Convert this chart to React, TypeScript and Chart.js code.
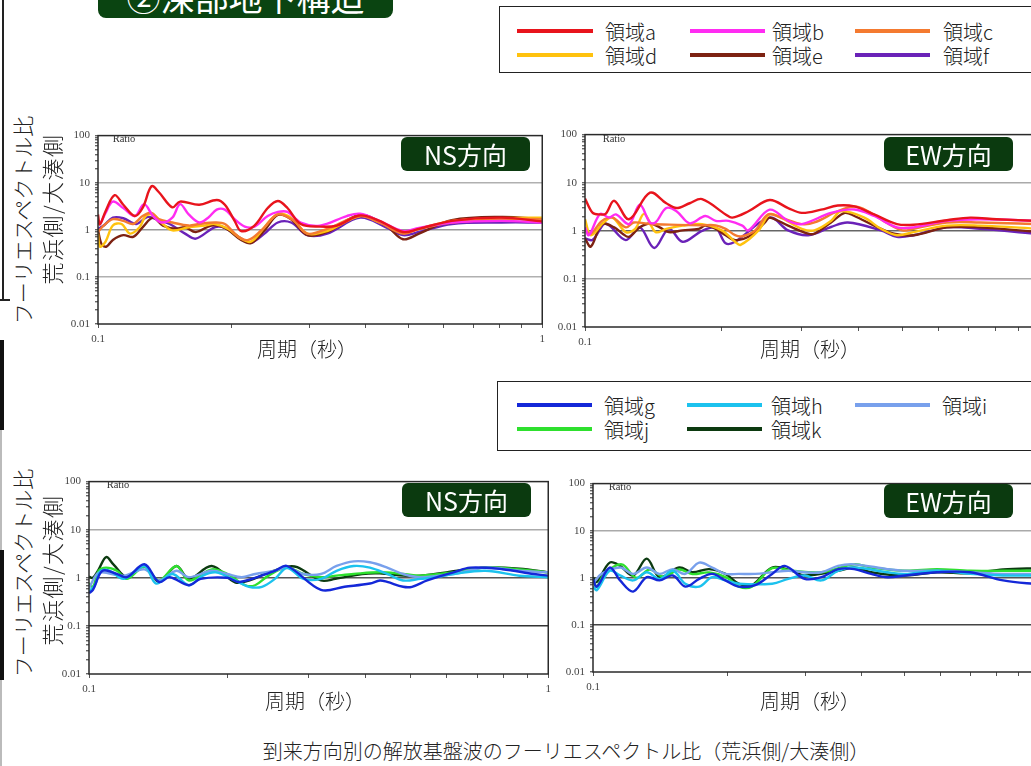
import React, { useEffect, useRef } from "react";
import { Chart, registerables } from "chart.js";
Chart.register(...registerables);

type Pt = [number, number];

// ---- tick values ----
const X_TICKS = [0.1, 0.2, 0.3, 0.4, 0.5, 0.6, 0.7, 0.8, 0.9, 1];
const X_LABELED = [0.1, 1];
const Y_DECADES = [0.01, 0.1, 1, 10, 100];
const Y_MANTISSAS = [1, 2, 3, 4, 5, 6, 7, 8, 9];

// ---- labels ----
const LABELS_TOP = ["領域a", "領域b", "領域c", "領域d", "領域e", "領域f"];
const LABELS_BOTTOM = ["領域g", "領域h", "領域i", "領域j", "領域k"];

// ---- NS (top, regions a-f): [period(s), ratio] ----
const NS_A: Pt[] = [[0.1,2.12],[0.101,1.3],[0.104,2.48],[0.109,5.43],[0.114,3.4],[0.121,1.96],[0.126,2.9],[0.132,8.42],[0.137,6.35],[0.147,3.0],[0.153,3.97],[0.169,3.4],[0.185,4.29],[0.193,3.4],[0.203,1.55],[0.21,0.94],[0.225,1.23],[0.241,2.9],[0.254,4.09],[0.267,2.9],[0.286,1.33],[0.316,1.17],[0.345,1.23],[0.389,2.02],[0.43,1.55],[0.486,0.9],[0.528,1.05],[0.626,1.55],[0.809,1.81],[1.0,1.5]];
const NS_B: Pt[] = [[0.1,1.55],[0.101,1.33],[0.104,2.29],[0.108,3.97],[0.114,2.9],[0.121,1.96],[0.127,3.5],[0.133,1.96],[0.139,1.43],[0.147,1.81],[0.153,3.5],[0.16,2.12],[0.169,1.43],[0.177,1.81],[0.185,2.68],[0.193,2.68],[0.203,1.68],[0.214,1.17],[0.225,1.17],[0.241,1.96],[0.254,2.4],[0.267,2.4],[0.286,1.43],[0.316,1.23],[0.363,1.96],[0.389,2.19],[0.43,1.55],[0.486,0.94],[0.528,1.1],[0.626,1.43],[0.809,1.55],[1.0,1.43]];
const NS_C: Pt[] = [[0.1,0.9],[0.103,1.23],[0.108,1.68],[0.114,1.55],[0.12,1.33],[0.126,1.96],[0.132,2.29],[0.137,1.68],[0.147,1.43],[0.16,1.23],[0.169,1.33],[0.183,1.43],[0.193,1.33],[0.207,0.71],[0.218,0.61],[0.233,0.97],[0.254,2.12],[0.276,1.55],[0.296,0.83],[0.328,1.05],[0.389,1.96],[0.43,1.43],[0.486,0.83],[0.528,1.05],[0.626,1.43],[0.809,1.68],[1.0,1.68]];
const NS_D: Pt[] = [[0.1,0.83],[0.101,0.44],[0.104,0.56],[0.108,1.23],[0.113,1.33],[0.118,0.83],[0.124,1.13],[0.128,1.96],[0.133,2.12],[0.14,1.33],[0.147,0.97],[0.16,1.13],[0.174,1.23],[0.183,1.33],[0.196,1.05],[0.21,0.65],[0.221,0.56],[0.237,1.13],[0.254,2.19],[0.272,1.81],[0.296,0.83],[0.328,0.94],[0.389,1.96],[0.43,1.43],[0.486,0.9],[0.528,1.05],[0.626,1.55],[0.809,1.76],[1.0,1.81]];
const NS_E: Pt[] = [[0.1,0.97],[0.102,0.48],[0.1045,0.44],[0.108,0.61],[0.114,0.77],[0.12,0.71],[0.126,1.13],[0.133,1.81],[0.14,1.23],[0.15,1.05],[0.157,1.13],[0.166,0.9],[0.18,1.23],[0.193,1.1],[0.21,0.61],[0.221,0.52],[0.237,0.97],[0.254,2.06],[0.272,1.68],[0.296,0.77],[0.328,0.9],[0.389,2.06],[0.445,1.23],[0.486,0.63],[0.528,0.83],[0.626,1.6],[0.809,1.87],[1.0,1.68]];
const NS_F: Pt[] = [[0.1,1.05],[0.103,1.23],[0.108,1.81],[0.114,1.76],[0.122,1.33],[0.129,1.87],[0.135,1.68],[0.145,1.33],[0.157,0.83],[0.166,0.65],[0.183,1.13],[0.193,1.1],[0.21,0.65],[0.221,0.53],[0.237,0.83],[0.254,1.43],[0.272,1.43],[0.296,0.77],[0.328,0.83],[0.389,1.81],[0.445,1.13],[0.486,0.77],[0.528,0.9],[0.626,1.33],[0.809,1.43],[1.0,1.43]];

// ---- EW (top, regions a-f) ----
const EW_A: Pt[] = [[0.1,4.7],[0.104,2.36],[0.108,2.19],[0.111,2.25],[0.116,4.2],[0.125,1.74],[0.139,6.2],[0.151,3.74],[0.159,2.97],[0.17,3.74],[0.181,4.56],[0.204,2.19],[0.211,1.88],[0.229,2.55],[0.255,4.37],[0.28,2.97],[0.3,2.36],[0.331,2.75],[0.36,3.36],[0.392,3.21],[0.433,2.19],[0.486,1.38],[0.529,1.34],[0.626,1.66],[0.705,1.88],[0.805,1.74],[1.0,1.6]];
const EW_B: Pt[] = [[0.1,1.18],[0.102,0.81],[0.108,2.25],[0.113,1.88],[0.117,2.19],[0.125,1.38],[0.132,3.47],[0.139,1.49],[0.143,1.49],[0.151,2.97],[0.159,2.55],[0.17,1.43],[0.184,2.03],[0.194,1.61],[0.207,1.61],[0.222,1.28],[0.229,1.02],[0.255,2.75],[0.28,1.61],[0.3,1.38],[0.348,2.36],[0.392,2.78],[0.433,2.03],[0.486,1.18],[0.529,1.18],[0.626,1.61],[0.741,1.74],[1.0,1.6]];
const EW_C: Pt[] = [[0.1,1.02],[0.103,0.87],[0.109,1.61],[0.115,1.88],[0.123,1.18],[0.128,1.49],[0.139,1.38],[0.16,1.33],[0.18,1.3],[0.194,1.3],[0.204,1.1],[0.214,0.81],[0.222,0.77],[0.237,1.02],[0.253,2.19],[0.27,1.88],[0.3,1.38],[0.32,1.49],[0.36,2.55],[0.392,3.21],[0.42,2.55],[0.46,1.49],[0.5,1.02],[0.529,1.1],[0.626,1.49],[0.741,1.49],[1.0,1.38]];
const EW_D: Pt[] = [[0.1,1.74],[0.103,0.81],[0.11,1.5],[0.115,1.88],[0.123,0.94],[0.129,1.1],[0.135,2.25],[0.143,0.94],[0.151,1.1],[0.164,1.28],[0.181,1.38],[0.2,1.02],[0.214,0.59],[0.22,0.51],[0.241,1.02],[0.255,2.2],[0.27,1.88],[0.3,1.1],[0.32,1.02],[0.348,1.6],[0.366,2.55],[0.412,1.88],[0.448,1.1],[0.486,0.81],[0.529,0.94],[0.626,1.28],[0.741,1.28],[1.0,1.1]];
const EW_E: Pt[] = [[0.1,0.69],[0.103,0.47],[0.109,1.38],[0.116,1.18],[0.121,0.87],[0.125,0.75],[0.132,1.18],[0.139,1.42],[0.146,1.18],[0.153,0.94],[0.164,1.02],[0.178,1.1],[0.184,1.28],[0.194,1.1],[0.204,0.81],[0.214,0.64],[0.229,0.75],[0.249,1.49],[0.255,1.88],[0.28,1.28],[0.31,0.87],[0.32,0.87],[0.348,1.49],[0.373,2.36],[0.392,2.03],[0.433,1.28],[0.479,0.87],[0.529,0.81],[0.626,1.18],[0.741,1.18],[1.0,0.94]];
const EW_F: Pt[] = [[0.1,0.69],[0.104,0.65],[0.11,1.38],[0.113,1.3],[0.123,0.64],[0.132,1.18],[0.142,0.44],[0.153,1.1],[0.164,0.59],[0.181,1.0],[0.194,1.15],[0.204,0.55],[0.214,0.59],[0.255,1.88],[0.28,1.02],[0.31,0.81],[0.348,1.2],[0.379,1.49],[0.448,1.02],[0.486,0.75],[0.529,0.81],[0.626,1.18],[0.741,1.1],[1.0,0.85]];

// ---- NS (bottom, regions g-k) ----
const NSB_G: Pt[] = [[0.1,0.48],[0.102,0.56],[0.107,1.4],[0.115,1.2],[0.121,1.03],[0.132,1.91],[0.142,0.82],[0.15,1.03],[0.165,0.7],[0.175,0.95],[0.2,1.0],[0.213,0.82],[0.254,1.4],[0.27,1.76],[0.32,0.56],[0.36,0.65],[0.409,0.76],[0.43,0.88],[0.446,0.82],[0.483,0.65],[0.505,0.65],[0.545,0.88],[0.622,1.3],[0.676,1.63],[0.795,1.51],[0.93,1.2],[1.0,1.11]];
const NSB_H: Pt[] = [[0.1,0.52],[0.103,0.7],[0.106,1.4],[0.111,1.4],[0.119,0.95],[0.132,1.76],[0.14,0.76],[0.152,1.2],[0.165,0.7],[0.177,1.11],[0.189,1.3],[0.208,0.88],[0.223,0.65],[0.238,0.65],[0.254,0.95],[0.27,1.6],[0.293,0.95],[0.32,0.95],[0.346,1.4],[0.377,1.76],[0.409,1.63],[0.446,1.2],[0.483,0.88],[0.527,0.95],[0.572,1.03],[0.622,1.2],[0.73,1.4],[0.866,1.1],[1.0,1.03]];
const NSB_I: Pt[] = [[0.1,0.6],[0.104,1.2],[0.107,1.3],[0.119,1.11],[0.132,1.5],[0.142,0.88],[0.155,1.4],[0.165,1.03],[0.185,1.4],[0.2,1.2],[0.215,1.03],[0.23,1.2],[0.254,1.4],[0.27,1.63],[0.293,1.2],[0.32,1.2],[0.346,1.76],[0.377,2.2],[0.409,2.1],[0.446,1.63],[0.483,1.2],[0.527,1.03],[0.622,1.2],[0.73,1.63],[0.866,1.4],[1.0,1.3]];
const NSB_J: Pt[] = [[0.1,0.76],[0.102,0.65],[0.105,1.4],[0.109,1.63],[0.115,1.4],[0.121,0.95],[0.132,1.7],[0.142,0.88],[0.155,1.76],[0.165,0.88],[0.185,1.5],[0.2,1.2],[0.219,0.7],[0.23,0.7],[0.246,1.11],[0.27,1.63],[0.293,1.2],[0.32,1.03],[0.346,1.11],[0.377,1.2],[0.43,1.3],[0.483,1.2],[0.527,1.11],[0.622,1.3],[0.73,1.63],[0.866,1.5],[1.0,1.3]];
const NSB_K: Pt[] = [[0.1,1.05],[0.102,1.0],[0.105,1.5],[0.109,2.7],[0.113,1.9],[0.121,1.03],[0.132,1.76],[0.142,0.82],[0.155,1.76],[0.165,0.95],[0.185,1.76],[0.208,0.8],[0.223,0.88],[0.242,1.2],[0.27,1.7],[0.284,1.66],[0.32,0.88],[0.344,0.95],[0.393,1.2],[0.43,1.24],[0.483,1.11],[0.527,1.11],[0.6,1.3],[0.73,1.63],[0.866,1.55],[1.0,1.3]];

// ---- EW (bottom, regions g-k) ----
const EWB_G: Pt[] = [[0.1,0.95],[0.102,0.65],[0.109,1.65],[0.115,0.88],[0.123,0.51],[0.132,1.03],[0.141,0.88],[0.151,1.12],[0.161,0.65],[0.173,0.95],[0.185,1.21],[0.198,0.88],[0.212,0.65],[0.231,0.7],[0.252,1.21],[0.269,1.79],[0.298,0.95],[0.325,1.03],[0.354,1.53],[0.385,1.53],[0.42,1.21],[0.457,1.03],[0.5,1.12],[0.59,1.31],[0.7,1.31],[0.83,0.88],[1.0,0.72]];
const EWB_H: Pt[] = [[0.1,0.65],[0.102,0.55],[0.109,1.41],[0.115,1.12],[0.123,0.88],[0.132,1.31],[0.141,0.95],[0.151,1.41],[0.161,0.75],[0.173,0.65],[0.185,1.03],[0.198,0.88],[0.212,0.75],[0.252,0.75],[0.274,0.95],[0.298,1.12],[0.325,0.88],[0.354,1.41],[0.385,1.65],[0.457,1.31],[0.5,1.21],[0.59,1.41],[0.7,1.21],[0.83,1.12],[1.0,1.12]];
const EWB_I: Pt[] = [[0.1,0.75],[0.1045,1.21],[0.115,1.65],[0.123,1.21],[0.132,1.65],[0.141,1.21],[0.151,1.53],[0.161,1.21],[0.173,2.1],[0.185,1.65],[0.198,1.21],[0.212,1.21],[0.231,1.21],[0.252,1.31],[0.274,1.41],[0.298,1.31],[0.325,1.31],[0.354,1.79],[0.385,1.93],[0.457,1.53],[0.5,1.41],[0.59,1.41],[0.7,1.31],[0.83,1.21],[1.0,1.21]];
const EWB_J: Pt[] = [[0.1,0.88],[0.102,0.65],[0.106,1.21],[0.116,1.93],[0.125,1.0],[0.134,1.5],[0.144,1.05],[0.156,1.5],[0.167,1.2],[0.182,1.3],[0.2,1.0],[0.212,0.65],[0.227,0.65],[0.252,1.6],[0.279,1.41],[0.325,1.31],[0.385,1.93],[0.42,1.65],[0.5,1.41],[0.59,1.53],[0.7,1.41],[0.83,1.41],[1.0,1.41]];
const EWB_K: Pt[] = [[0.1,1.03],[0.102,0.82],[0.109,2.1],[0.115,1.79],[0.123,1.12],[0.132,2.55],[0.141,1.03],[0.156,1.65],[0.167,1.31],[0.182,1.53],[0.198,1.21],[0.212,0.75],[0.227,0.7],[0.252,1.65],[0.279,1.41],[0.298,1.12],[0.354,1.41],[0.385,1.65],[0.42,1.31],[0.5,1.12],[0.59,1.31],[0.7,1.25],[0.83,1.5],[1.0,1.6]];

// ---- styles ----
const COLORS_TOP = ["#e8141c", "#ff2cf2", "#f47a30", "#ffc20e", "#7d2212", "#6a22b8"];
const COLORS_BOTTOM = ["#1428d8", "#1cc2ee", "#78a0ec", "#2ee02e", "#0c3a10"];
const CJK = '"Noto Sans CJK JP", "Noto Sans", sans-serif';
const SERIF = '"Liberation Serif", "DejaVu Serif", serif';

const Y_W = 40;
const PAD_T = 4;
const PAD_R = 4;
const X_H = 26;

type Plot = { left: number; top: number; width: number; height: number };

const boxPlugin = {
  id: "plotBox",
  afterDatasetsDraw(chart: any) {
    const { ctx, chartArea: a } = chart;
    ctx.save();
    ctx.strokeStyle = "#2a2a2a";
    ctx.lineWidth = 1.5;
    ctx.strokeRect(a.left, a.top, a.right - a.left, a.bottom - a.top);
    ctx.restore();
  },
};

function isDecade(v: number) {
  return Y_DECADES.some((d) => Math.abs(v - d) / d < 1e-6);
}

function SpectrumChart({ plot, data, colors, gridColors }: { plot: Plot; data: Pt[][]; colors: string[]; gridColors: string[] }) {
  const ref = useRef<HTMLCanvasElement>(null);
  const cw = plot.width + Y_W + PAD_R;
  const ch = plot.height + PAD_T + X_H;
  useEffect(() => {
    const yTicks: number[] = [];
    Y_DECADES.slice(0, 4).forEach((d) => Y_MANTISSAS.forEach((m) => yTicks.push(m === 1 ? d : d * m)));
    yTicks.push(100);
    const chart = new Chart(ref.current as HTMLCanvasElement, {
      type: "line",
      data: {
        datasets: data.map((s, i) => ({
          data: s.map(([x, y]) => ({ x, y })),
          borderColor: colors[i],
          borderWidth: 2.4,
          pointRadius: 0,
          tension: 0.35,
          fill: false,
        })),
      } as any,
      options: {
        responsive: false,
        animation: false,
        devicePixelRatio: 1,
        layout: { padding: { top: PAD_T, right: PAD_R, left: 0, bottom: 0 } },
        plugins: { legend: { display: false }, tooltip: { enabled: false } },
        scales: {
          x: {
            type: "logarithmic",
            min: 0.1,
            max: 1,
            afterBuildTicks: (s: any) => { s.ticks = X_TICKS.map((v) => ({ value: v })); },
            afterFit: (s: any) => { s.height = X_H; },
            ticks: {
              autoSkip: false,
              maxRotation: 0,
              padding: 5,
              color: "#444",
              font: { family: SERIF, size: 11 },
              callback: (v: any) => (X_LABELED.includes(Number(v)) ? String(v) : ""),
            },
            grid: { drawOnChartArea: false, tickLength: 4, color: "#555" },
            border: { display: false },
          },
          y: {
            type: "logarithmic",
            min: 0.01,
            max: 100,
            afterBuildTicks: (s: any) => { s.ticks = yTicks.map((v) => ({ value: v })); },
            afterFit: (s: any) => { s.width = Y_W; },
            ticks: {
              autoSkip: false,
              padding: 5,
              color: "#444",
              font: { family: SERIF, size: 11 },
              callback: (v: any) => (isDecade(Number(v)) ? String(v) : ""),
            },
            grid: {
              tickLength: 3,
              tickColor: "#666",
              lineWidth: 1.4,
              color: (ctx: any) => {
                const v = ctx.tick ? ctx.tick.value : 0;
                if (Math.abs(v - 10) < 1e-6) return gridColors[0];
                if (Math.abs(v - 1) < 1e-6) return gridColors[1];
                if (Math.abs(v - 0.1) < 1e-6) return gridColors[2];
                return "rgba(0,0,0,0)";
              },
            },
            border: { display: false },
          },
        },
      } as any,
      plugins: [boxPlugin],
    });
    return () => chart.destroy();
  }, []);
  return (
    <canvas
      ref={ref}
      width={cw}
      height={ch}
      style={{ position: "absolute", left: plot.left - Y_W, top: plot.top - PAD_T, width: cw, height: ch }}
    />
  );
}

function Abs({ x, y, children, style }: { x: number; y: number; children: any; style?: any }) {
  return (
    <div style={{ position: "absolute", left: x, top: y, transform: "translate(-50%,-50%)", whiteSpace: "nowrap", ...style }}>
      {children}
    </div>
  );
}

function DirBox({ left, top, text }: { left: number; top: number; text: string }) {
  return (
    <div
      style={{
        position: "absolute", left, top, width: 129, height: 34, background: "#0b3a0f", borderRadius: 6,
        color: "#fff", fontFamily: CJK, fontSize: 25, lineHeight: "34px", textAlign: "center",
      }}
    >
      {text}
    </div>
  );
}

function Legend({ left, top, width, height, rows, labels, colors, lineX, textX }: any) {
  return (
    <>
      <div style={{ position: "absolute", left, top, width, height, border: "1.5px solid #222", boxSizing: "border-box" }} />
      {labels.map((lab: string, i: number) => {
        const r = Math.floor(i / 3);
        const c = i % 3;
        return (
          <React.Fragment key={lab}>
            <div style={{ position: "absolute", left: lineX[c][0], top: rows[r] - 2, width: lineX[c][1] - lineX[c][0], height: 4, background: colors[i] }} />
            <div style={{ position: "absolute", left: textX[c], top: rows[r] + 1, transform: "translateY(-50%)", fontFamily: CJK, fontSize: 20, fontWeight: 300, color: "#222", lineHeight: "22px" }}>
              {lab}
            </div>
          </React.Fragment>
        );
      })}
    </>
  );
}

export default function App() {
  const topData = [NS_A, NS_B, NS_C, NS_D, NS_E, NS_F];
  const topDataEW = [EW_A, EW_B, EW_C, EW_D, EW_E, EW_F];
  const botData = [NSB_G, NSB_H, NSB_I, NSB_J, NSB_K];
  const botDataEW = [EWB_G, EWB_H, EWB_I, EWB_J, EWB_K];
  const axisTitle = { fontFamily: CJK, fontSize: 20, fontWeight: 300, color: "#222" };
  const ratio = { fontFamily: SERIF, fontSize: 10.5, color: "#333" };
  const vert = { fontFamily: CJK, fontWeight: 300, color: "#222", transform: "translate(-50%,-50%) rotate(-90deg)" };
  return (
    <div style={{ position: "relative", width: 1031, height: 766, overflow: "hidden", background: "#fff" }}>
      <style>{"body{margin:0;overflow:hidden}"}</style>

      {/* left frame remnants */}
      <div style={{ position: "absolute", left: 2, top: 0, width: 1.5, height: 300, background: "#222" }} />
      <div style={{ position: "absolute", left: 0, top: 299, width: 10, height: 1.5, background: "#222" }} />
      <div style={{ position: "absolute", left: 0, top: 340, width: 4, height: 90, background: "#111" }} />
      <div style={{ position: "absolute", left: 0, top: 430, width: 2, height: 120, background: "#bbb" }} />
      <div style={{ position: "absolute", left: 0, top: 550, width: 4, height: 130, background: "#111" }} />
      <div style={{ position: "absolute", left: 0, top: 680, width: 2, height: 86, background: "#bbb" }} />

      {/* title box (cut at top) */}
      <div style={{ position: "absolute", left: 98, top: -30, width: 295, height: 48, background: "#0a4411", borderRadius: 8 }} />
      <div style={{ position: "absolute", left: 98, top: -20, width: 295, height: 34, lineHeight: "34px", textAlign: "center", color: "#fff", fontFamily: CJK, fontSize: 34 }}>
        ②深部地下構造
      </div>

      {/* legends */}
      <Legend left={499} top={6} width={545} height={67} rows={[31, 55]} labels={LABELS_TOP} colors={COLORS_TOP}
        lineX={[[517, 593], [690, 765], [855, 930]]} textX={[605, 772, 943]} />
      <Legend left={497} top={381} width={545} height={70} rows={[405, 429]} labels={LABELS_BOTTOM} colors={COLORS_BOTTOM}
        lineX={[[517, 592], [687, 762], [855, 930]]} textX={[604, 771, 942]} />

      {/* charts */}
      <SpectrumChart plot={{ left: 98, top: 128, width: 448, height: 196 }} data={topData} colors={COLORS_TOP} gridColors={["#b0b0b0", "#999", "#b0b0b0"]} />
      <SpectrumChart plot={{ left: 585, top: 127, width: 458, height: 200 }} data={topDataEW} colors={COLORS_TOP} gridColors={["#aaa", "#666", "#aaa"]} />
      <SpectrumChart plot={{ left: 89, top: 474, width: 463, height: 200 }} data={botData} colors={COLORS_BOTTOM} gridColors={["#aaa", "#555", "#333"]} />
      <SpectrumChart plot={{ left: 593, top: 476, width: 450, height: 196 }} data={botDataEW} colors={COLORS_BOTTOM} gridColors={["#aaa", "#555", "#444"]} />

      {/* Ratio labels */}
      <Abs x={124} y={138} style={ratio}>Ratio</Abs>
      <Abs x={614} y={138} style={ratio}>Ratio</Abs>
      <Abs x={118} y={484} style={ratio}>Ratio</Abs>
      <Abs x={620} y={486} style={ratio}>Ratio</Abs>

      {/* direction boxes */}
      <DirBox left={401} top={137} text="NS方向" />
      <DirBox left={884} top={137} text="EW方向" />
      <DirBox left={402} top={483} text="NS方向" />
      <DirBox left={884} top={484} text="EW方向" />

      {/* x axis titles */}
      <Abs x={307} y={348} style={axisTitle}>周期（秒）</Abs>
      <Abs x={810} y={348} style={axisTitle}>周期（秒）</Abs>
      <Abs x={315} y={700} style={axisTitle}>周期（秒）</Abs>
      <Abs x={810} y={700} style={axisTitle}>周期（秒）</Abs>

      {/* vertical y titles */}
      <Abs x={22} y={220} style={{ ...vert, fontSize: 21 }}>フーリエスペクトル比</Abs>
      <Abs x={51} y={209} style={{ ...vert, fontSize: 22, letterSpacing: 1.5 }}>荒浜側/大湊側</Abs>
      <Abs x={22} y={573} style={{ ...vert, fontSize: 21 }}>フーリエスペクトル比</Abs>
      <Abs x={51} y={570} style={{ ...vert, fontSize: 22, letterSpacing: 1.5 }}>荒浜側/大湊側</Abs>

      {/* caption */}
      <Abs x={566} y={750} style={{ fontFamily: CJK, fontSize: 20, fontWeight: 300, color: "#222" }}>
        到来方向別の解放基盤波のフーリエスペクトル比（荒浜側/大湊側）
      </Abs>
    </div>
  );
}
